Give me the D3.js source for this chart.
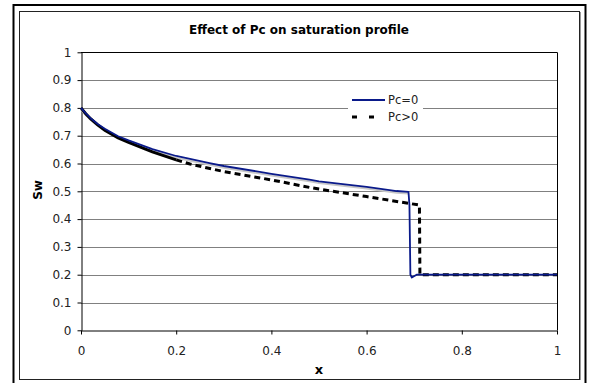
<!DOCTYPE html>
<html>
<head>
<meta charset="utf-8">
<script src="https://cdn.jsdelivr.net/npm/d3@7"></script>
<style>
  body { margin: 0; background: #fff; }
  svg { display: block; font-family: "DejaVu Sans", Verdana, sans-serif; }
</style>
</head>
<body>
<script>
// values
const xTicks = [0, 0.2, 0.4, 0.6, 0.8, 1];
const yTicks = [0, 0.1, 0.2, 0.3, 0.4, 0.5, 0.6, 0.7, 0.8, 0.9, 1];

const pc0X = [0, 0.01, 0.02, 0.035, 0.05, 0.078, 0.1, 0.15, 0.2, 0.27, 0.3, 0.4, 0.48, 0.5, 0.6, 0.663, 0.688, 0.69, 0.692, 0.695, 0.705, 1];
const pc0Y = [0.8, 0.780, 0.763, 0.742, 0.725, 0.698, 0.683, 0.652, 0.627, 0.601, 0.591, 0.563, 0.542, 0.536, 0.516, 0.501, 0.498, 0.45, 0.20, 0.19, 0.20, 0.20];

const pcPosX = [0, 0.01, 0.02, 0.035, 0.05, 0.078, 0.1, 0.15, 0.2, 0.229, 0.3, 0.4, 0.48, 0.5, 0.6, 0.709, 0.711, 0.712, 1];
const pcPosY = [0.8, 0.779, 0.761, 0.739, 0.720, 0.692, 0.676, 0.642, 0.613, 0.598, 0.571, 0.541, 0.514, 0.508, 0.481, 0.451, 0.45, 0.20, 0.20];

const legendLabels = ['Pc=0', 'Pc>0'];

const width = 592, height = 383;
const svg = d3.select('body').append('svg').attr('width', width).attr('height', height);

// frames
svg.append('rect').attr('x', 13.5).attr('y', 5).attr('width', 572).attr('height', 400)
  .attr('fill', 'none').attr('stroke', '#000').attr('stroke-width', 2);
svg.append('line').attr('x1', 580).attr('x2', 580).attr('y1', 12).attr('y2', 380)
  .attr('stroke', '#999').attr('stroke-width', 2);
svg.append('rect').attr('x', 19.5).attr('y', 11.5).attr('width', 560).attr('height', 368)
  .attr('fill', 'none').attr('stroke', '#222').attr('stroke-width', 1);

const x = d3.scaleLinear().domain([0, 1]).range([81, 557]);
const y = d3.scaleLinear().domain([0, 1]).range([330.3, 52.3]);

// gridlines
svg.append('g').selectAll('line').data(yTicks.filter(d => d > 0 && d < 1)).join('line')
  .attr('x1', x(0)).attr('x2', x(1))
  .attr('y1', d => Math.round(y(d)) + 0.5).attr('y2', d => Math.round(y(d)) + 0.5)
  .attr('stroke', '#808080').attr('stroke-width', 1);

svg.append('line').attr('x1', x(0)).attr('x2', x(1))
  .attr('y1', Math.round(y(1)) + 0.5).attr('y2', Math.round(y(1)) + 0.5).attr('stroke', '#000');
svg.append('line').attr('x1', x(1) + 0.5).attr('x2', x(1) + 0.5)
  .attr('y1', y(1)).attr('y2', y(0)).attr('stroke', '#000');

// axes
const xAxis = d3.axisBottom(x).tickValues(xTicks).tickSize(4).tickSizeOuter(0).tickFormat(d3.format('~g'));
const yAxis = d3.axisLeft(y).tickValues(yTicks).tickSize(4).tickSizeOuter(0).tickFormat(d3.format('~g'));

const gx = svg.append('g').attr('transform', `translate(0, ${Math.round(y(0)) + 0.5})`).call(xAxis);
const gy = svg.append('g').attr('transform', `translate(${x(0) + 0.5}, 0)`).call(yAxis);
[gx, gy].forEach(g => {
  g.selectAll('.domain').attr('stroke', '#000');
  g.selectAll('.tick line').attr('stroke', '#000');
  g.selectAll('.tick text').attr('font-size', 12).attr('fill', '#222')
    .attr('font-family', '"DejaVu Sans", Verdana, sans-serif');
});
gx.selectAll('.tick text').attr('dy', '1.45em');
gy.selectAll('.tick text').attr('dx', '-0.25em');

// titles
svg.append('text').attr('x', 299).attr('y', 34).attr('text-anchor', 'middle')
  .attr('font-size', 12).attr('font-weight', 'bold').text('Effect of Pc on saturation profile');
svg.append('text').attr('x', 319).attr('y', 374).attr('text-anchor', 'middle')
  .attr('font-size', 13).attr('font-weight', 'bold').text('x');
svg.append('text').attr('transform', 'translate(42, 190) rotate(-90)').attr('text-anchor', 'middle')
  .attr('font-size', 12).attr('font-weight', 'bold').text('Sw');

// series
const line = d3.line().x(d => x(d[0])).y(d => y(d[1]));
const pc0 = pc0X.map((v, i) => [v, pc0Y[i]]);
const pcPos = pcPosX.map((v, i) => [v, pcPosY[i]]);

// faint gray trace just under the blue curve
svg.append('path').datum(pc0.filter(d => d[0] <= 0.688).map(d => [d[0], d[1] - 0.006]))
  .attr('d', line).attr('fill', 'none').attr('stroke', '#c8c8c8').attr('stroke-width', 2);

// Pc>0: dense start looks solid, the rest dashed
const split = pcPos.findIndex(d => d[0] >= 0.2);
svg.append('path').datum(pcPos.slice(0, split + 1))
  .attr('d', line).attr('fill', 'none').attr('stroke', '#000').attr('stroke-width', 3);
svg.append('path').datum(pcPos.slice(split))
  .attr('d', line).attr('fill', 'none').attr('stroke', '#000').attr('stroke-width', 3)
  .attr('stroke-dasharray', '6,4');

svg.append('path').datum(pc0)
  .attr('d', line).attr('fill', 'none').attr('stroke', '#0a1a8a').attr('stroke-width', 1.8)
  .attr('stroke-linejoin', 'round');

// legend
const lg = svg.append('g');
lg.append('rect').attr('x', 348).attr('y', 92).attr('width', 75).attr('height', 34).attr('fill', '#fff');
lg.append('line').attr('x1', 352).attr('x2', 385).attr('y1', 100).attr('y2', 100)
  .attr('stroke', '#0a1a8a').attr('stroke-width', 2);
lg.append('line').attr('x1', 352).attr('x2', 385).attr('y1', 117).attr('y2', 117)
  .attr('stroke', '#000').attr('stroke-width', 3).attr('stroke-dasharray', '5,12');
lg.selectAll('text').data(legendLabels).join('text')
  .attr('x', 388).attr('y', (d, i) => 104 + i * 17)
  .attr('font-size', 11.5).attr('fill', '#222').text(d => d);
</script>
</body>
</html>
